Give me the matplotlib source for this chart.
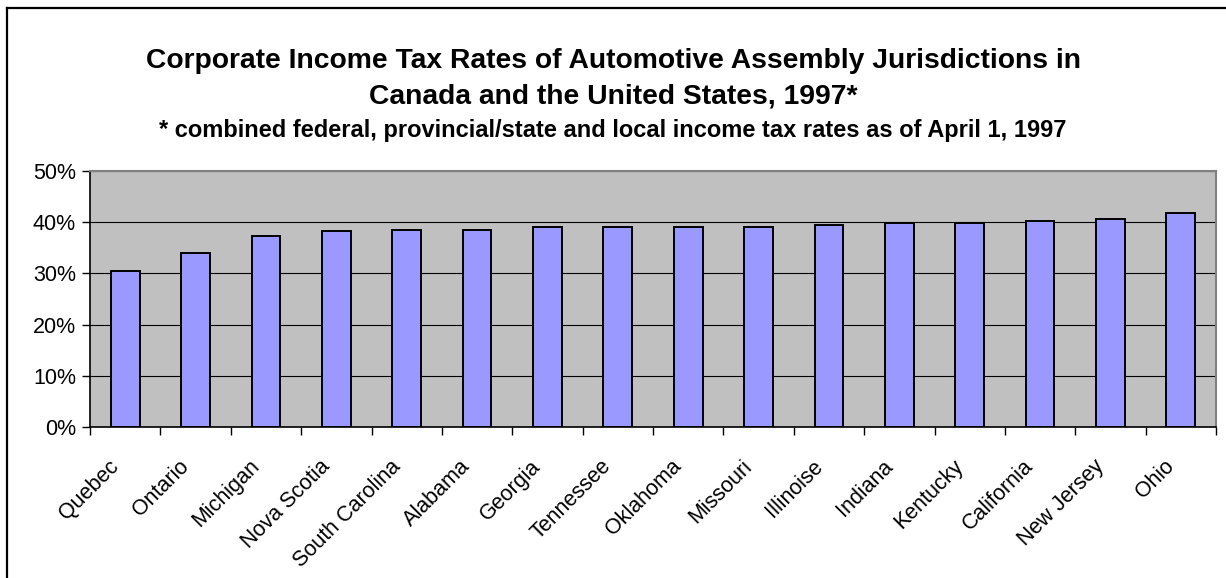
import matplotlib.pyplot as plt
from matplotlib.lines import Line2D
from matplotlib.ticker import FuncFormatter, MultipleLocator, FixedLocator
from matplotlib.transforms import ScaledTranslation
import numpy as np

plt.rcParams['font.family'] = ['Liberation Sans', 'DejaVu Sans']

# combined corporate income tax rates (%), April 1 1997
jurisdictions = ['Quebec', 'Ontario', 'Michigan', 'Nova Scotia', 'South Carolina',
                 'Alabama', 'Georgia', 'Tennessee', 'Oklahoma', 'Missouri',
                 'Illinoise', 'Indiana', 'Kentucky', 'California', 'New Jersey', 'Ohio']
rates = [30.4, 33.9, 37.4, 38.2, 38.5,
         38.4, 39.15, 39.15, 39.15, 39.15,
         39.5, 39.9, 39.9, 40.3, 40.6, 41.7]

fig = plt.figure(figsize=(12.26, 5.78), dpi=100)
ax = fig.add_axes([90 / 1226, 151 / 578, 1126 / 1226, 256 / 578])

x = np.arange(len(jurisdictions))
ax.bar(x, rates, width=0.41, color='#9999FF', edgecolor='black', linewidth=1.4, zorder=3)

ax.set_facecolor('#C0C0C0')
ax.set_xlim(-0.5, len(jurisdictions) - 0.5)
ax.set_ylim(0, 50)
ax.yaxis.set_major_locator(MultipleLocator(10))
ax.yaxis.set_major_formatter(FuncFormatter(lambda v, p: f'{v:.0f}%'))
ax.grid(axis='y', color='black', linewidth=0.8, zorder=1)

# category labels sit at the bar centres, ticks on the boundaries
ax.set_xticks(x)
ax.set_xticklabels(jurisdictions, rotation=45, ha='right', va='top',
                   rotation_mode='anchor', fontsize=15.5)
ax.tick_params(axis='x', which='major', length=0, pad=10)
shift = ScaledTranslation(-0.17, -0.15, fig.dpi_scale_trans)
for lbl in ax.get_xticklabels():
    lbl.set_transform(lbl.get_transform() + shift)
ax.xaxis.set_minor_locator(FixedLocator(np.arange(-0.5, len(jurisdictions) + 0.5, 1)))
ax.tick_params(axis='x', which='minor', length=6, width=1, color='black')
ax.tick_params(axis='y', length=6, width=1, labelsize=15.5, pad=4)

for side in ['top', 'right']:
    ax.spines[side].set_color('#808080')
    ax.spines[side].set_linewidth(1.5)
for side in ['left', 'bottom']:
    ax.spines[side].set_color('black')
    ax.spines[side].set_linewidth(1.2)

fig.text(0.5, 1 - 68 / 578, 'Corporate Income Tax Rates of Automotive Assembly Jurisdictions in',
         ha='center', va='baseline', fontsize=20.3, fontweight='bold')
fig.text(0.5, 1 - 104 / 578, 'Canada and the United States, 1997*',
         ha='center', va='baseline', fontsize=20.3, fontweight='bold')
fig.text(0.5, 1 - 137 / 578,
         '* combined federal, provincial/state and local income tax rates as of April 1, 1997',
         ha='center', va='baseline', fontsize=17, fontweight='bold')

# chart frame (runs off the right and bottom edges)
fig.add_artist(Line2D([7 / 1226, 7 / 1226], [0, 1 - 8 / 578], color='black', linewidth=1.6))
fig.add_artist(Line2D([7 / 1226, 1], [1 - 8 / 578, 1 - 8 / 578], color='black', linewidth=1.6))

fig.savefig('out.png', dpi=100)
